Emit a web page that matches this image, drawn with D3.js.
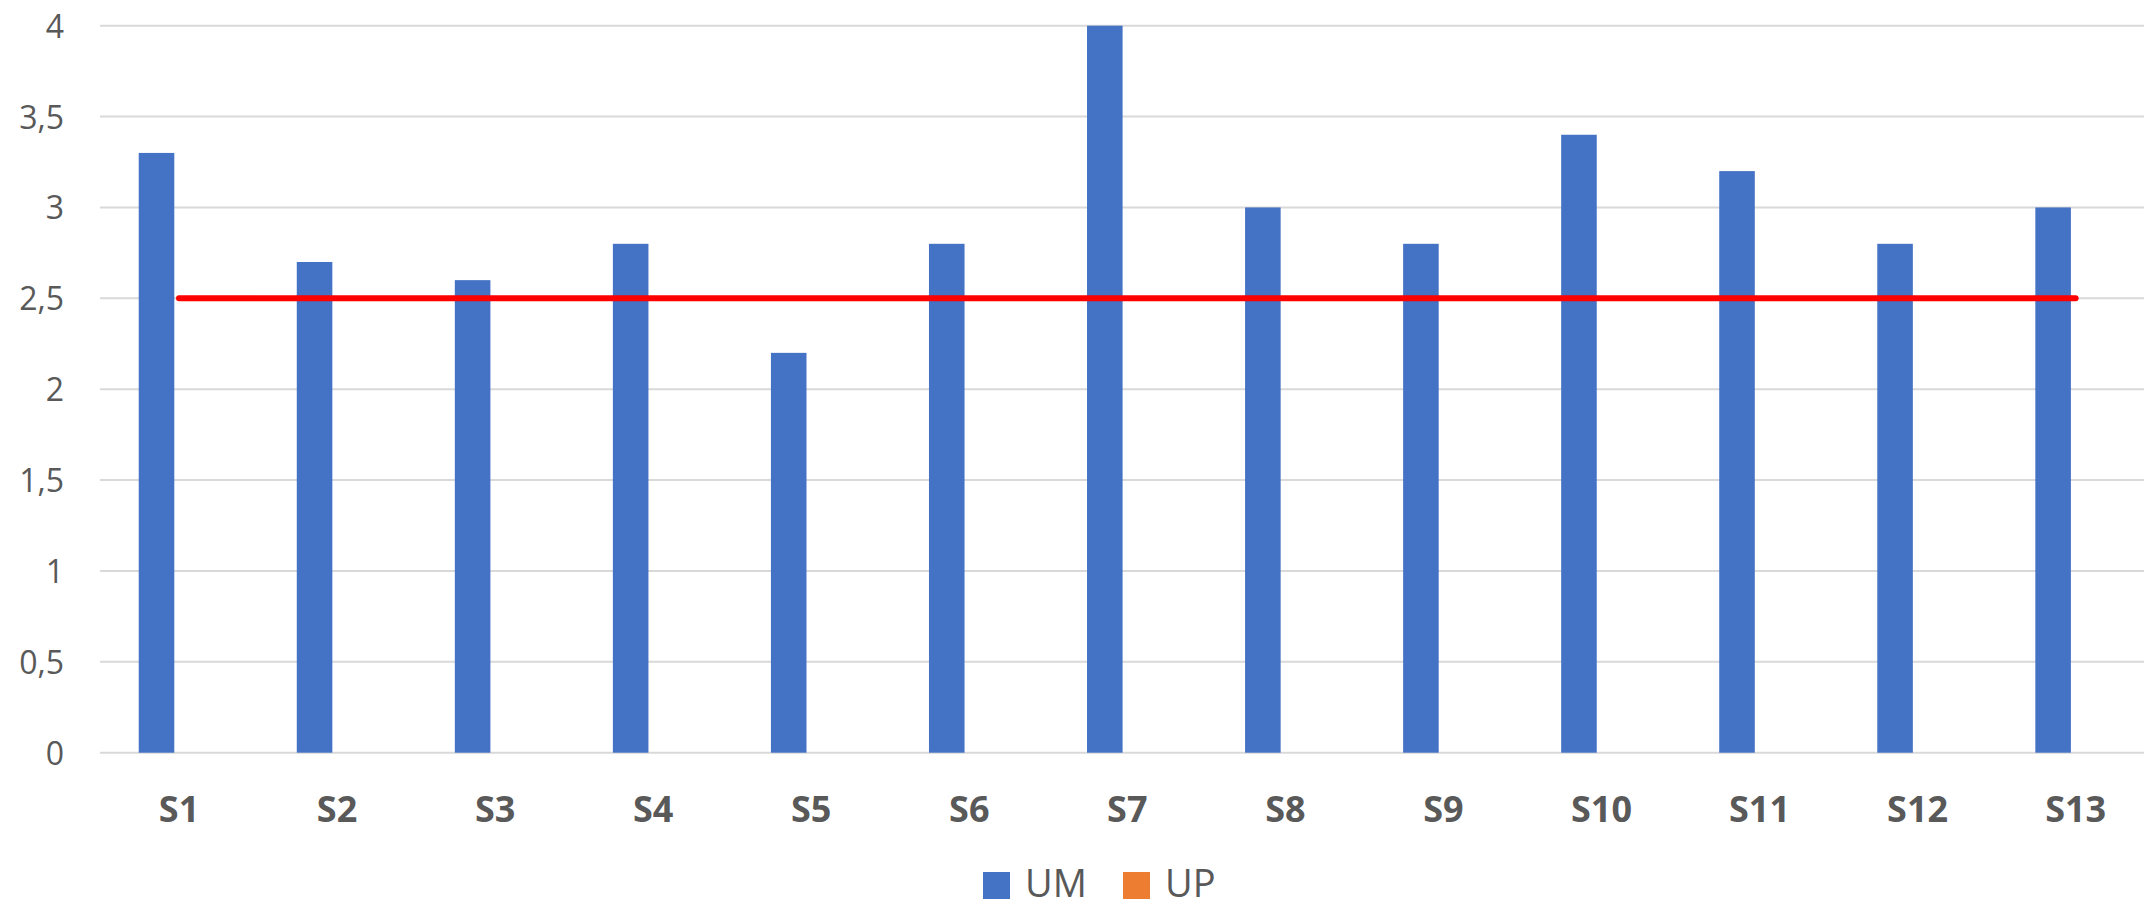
<!DOCTYPE html>
<html>
<head>
<meta charset="utf-8">
<script src="https://cdn.jsdelivr.net/npm/d3@7"></script>
<style>
  html, body { margin: 0; padding: 0; background: #ffffff; }
  svg { display: block; }
  text { font-family: "Open Sans", "Noto Sans", sans-serif; fill: #595959; }
</style>
</head>
<body>
<svg id="chart" width="2144" height="909"></svg>
<script>
// ---- data ----
const categories = ["S1","S2","S3","S4","S5","S6","S7","S8","S9","S10","S11","S12","S13"];
const seriesNames = ["UM","UP"];
const seriesColors = ["#4472C4","#ED7D31"];
const umValues = [3.3, 2.7, 2.6, 2.8, 2.2, 2.8, 4, 3, 2.8, 3.4, 3.2, 2.8, 3];
const upValues = [null, null, null, null, null, null, null, null, null, null, null, null, null];
const thresholdValues = [2.5, 2.5, 2.5, 2.5, 2.5, 2.5, 2.5, 2.5, 2.5, 2.5, 2.5, 2.5, 2.5];
const yTicks = [0, 0.5, 1, 1.5, 2, 2.5, 3, 3.5, 4];

// ---- layout ----
const W = 2144, H = 909;
const plotLeft = 100, step = 158.05;
const plotRight = plotLeft + step * categories.length;
const yTop = 25.7, yBottom = 752.7;

const svg = d3.select("#chart");

const x = d3.scaleBand().domain(categories).range([plotLeft, plotRight]).paddingInner(0).paddingOuter(0);
const bw = x.bandwidth();
const xs = d3.scaleBand().domain(seriesNames).range([bw * 0.245, bw * 0.755]).paddingInner(0.21);
const y = d3.scaleLinear().domain([0, 4]).range([yBottom, yTop]);

// gridlines
svg.append("g").selectAll("line").data(yTicks).join("line")
  .attr("x1", plotLeft).attr("x2", W)
  .attr("y1", d => y(d)).attr("y2", d => y(d))
  .attr("stroke", "#d9d9d9").attr("stroke-width", 2);

// y axis labels
const fmt = d => String(d).replace(".", ",");
const yAxis = d3.axisLeft(y).tickValues(yTicks).tickFormat(fmt).tickSize(0).tickPadding(0);
const gy = svg.append("g").attr("transform", "translate(64,0)").call(yAxis);
gy.select(".domain").remove();
gy.selectAll("text")
  .attr("font-size", 32)
  .attr("font-family", "'Open Sans', 'Noto Sans', sans-serif")
  .attr("fill", "#595959")
  .attr("dy", "0.36em");

// bars
const seriesData = [umValues, upValues];
seriesData.forEach((vals, si) => {
  svg.append("g").selectAll("rect")
    .data(categories.map((c, i) => ({ c, v: vals[i] })).filter(d => d.v != null))
    .join("rect")
    .attr("x", d => x(d.c) + xs(seriesNames[si]))
    .attr("width", xs.bandwidth())
    .attr("y", d => y(d.v))
    .attr("height", d => y(0) - y(d.v))
    .attr("fill", seriesColors[si]);
});

// threshold line
const line = d3.line()
  .x((d, i) => x(categories[i]) + bw / 2)
  .y(d => y(d));
svg.append("path")
  .datum(thresholdValues)
  .attr("d", line)
  .attr("fill", "none")
  .attr("stroke", "#FF0000")
  .attr("stroke-width", 6)
  .attr("stroke-linecap", "round");

// x axis labels
const xAxis = d3.axisBottom(x).tickSize(0).tickPadding(0);
const gx = svg.append("g").call(xAxis);
gx.select(".domain").remove();
gx.selectAll("text")
  .attr("y", 821.7)
  .attr("dy", 0)
  .attr("font-size", 36)
  .attr("font-weight", "bold")
  .attr("font-family", "'Open Sans', 'Noto Sans', sans-serif")
  .attr("fill", "#595959");

// legend
const legendX = [983, 1123];
const lg = svg.append("g").selectAll("g").data(seriesNames).join("g")
  .attr("transform", (d, i) => `translate(${legendX[i]},872)`);
lg.append("rect").attr("width", 27).attr("height", 27).attr("fill", (d, i) => seriesColors[i]);
lg.append("text").attr("x", 42).attr("y", 25)
  .attr("font-size", 38)
  .text(d => d);
</script>
</body>
</html>
